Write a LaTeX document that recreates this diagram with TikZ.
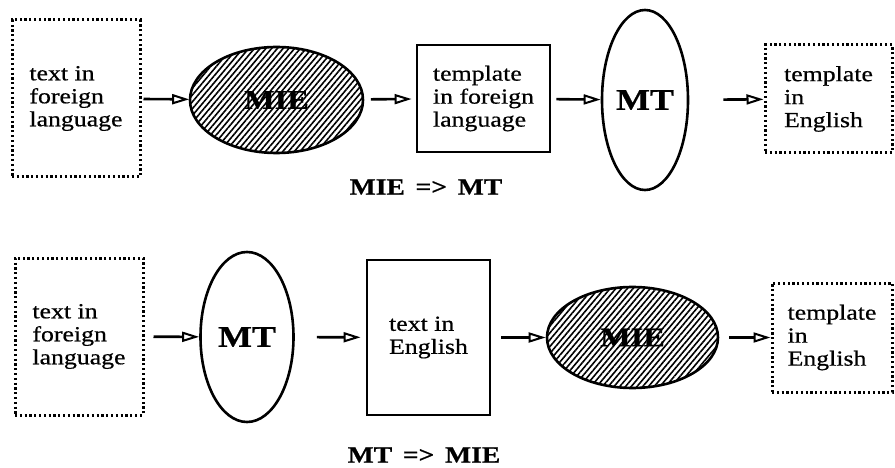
\documentclass[tikz,border=0pt]{standalone}
\usepackage{fontspec}
\setmainfont{Liberation Serif}[FakeStretch=1.2, FakeBold=0.6]
\usetikzlibrary{shapes.geometric,arrows.meta,patterns.meta}
\begin{document}
\begin{tikzpicture}[x=1pt,y=-1pt,
  txt/.style={font=\fontsize{21.5}{23}\selectfont, align=left, inner sep=0pt},
  dotbox/.style={txt, draw, line width=3pt, dash pattern=on 2.2pt off 2.6pt},
  solbox/.style={txt, draw, line width=2.8pt},
  plainell/.style={ellipse, draw, line width=2.6pt, inner sep=0pt,
    font=\fontsize{30}{30}\selectfont\bfseries},
  hatchell/.style={ellipse, draw, line width=2.6pt, inner sep=0pt,
    pattern={Lines[angle=50, distance=4.4pt, line width=1.6pt]},
    font=\fontsize{27}{27}\selectfont\bfseries},
  arr/.style={line width=2.6pt, -{Triangle[open, length=17pt, width=10pt, line width=2pt]}},
  lbl/.style={font=\fontsize{23}{23}\selectfont\bfseries, inner sep=0pt}
]
\useasboundingbox (0,0) rectangle (895,468);
% top row
\node[dotbox, minimum width=128pt, minimum height=157pt] (a1) at (76,98.5) {text in\\foreign\\language};
\node[hatchell, minimum width=173pt, minimum height=106pt] (a2) at (276.5,100) {MIE};
\node[solbox, minimum width=133pt, minimum height=107pt] (a3) at (483.5,98.5) {template\\in foreign\\language};
\node[plainell, minimum width=86pt, minimum height=180pt] (a4) at (645,100) {MT};
\node[dotbox, minimum width=127pt, minimum height=108pt] (a5) at (828.5,99) {template\\in\\English};
\draw[arr, shorten <=2pt] (a1) -- (a2);
\draw[arr, shorten <=7pt, shorten >=4pt] (a2) -- (a3);
\draw[arr, shorten <=5pt] (a3) -- (a4);
\draw[arr, shorten <=34pt] (a4) -- (a5);
\node[lbl] (l1) at (426,187) {MIE\, =>\, MT};
% bottom row
\node[dotbox, minimum width=128pt, minimum height=157pt] (b1) at (79,336.5) {text in\\foreign\\language};
\node[plainell, minimum width=93pt, minimum height=170pt] (b2) at (247,337) {MT};
\node[solbox, minimum width=123pt, minimum height=155pt] (b3) at (428.5,337.5) {text in\\English};
\node[hatchell, minimum width=171pt, minimum height=101pt] (b4) at (632.5,337.5) {MIE};
\node[dotbox, minimum width=120pt, minimum height=109pt] (b5) at (832,337.5) {template\\in\\English};
\draw[arr, shorten <=9pt] (b1) -- (b2);
\draw[arr, shorten <=22pt, shorten >=5pt] (b2) -- (b3);
\draw[arr, shorten <=10pt] (b3) -- (b4);
\draw[arr, shorten <=10pt] (b4) -- (b5);
\node[lbl] (l2) at (424,455) {MT\, =>\, MIE};
\end{tikzpicture}
\end{document}
